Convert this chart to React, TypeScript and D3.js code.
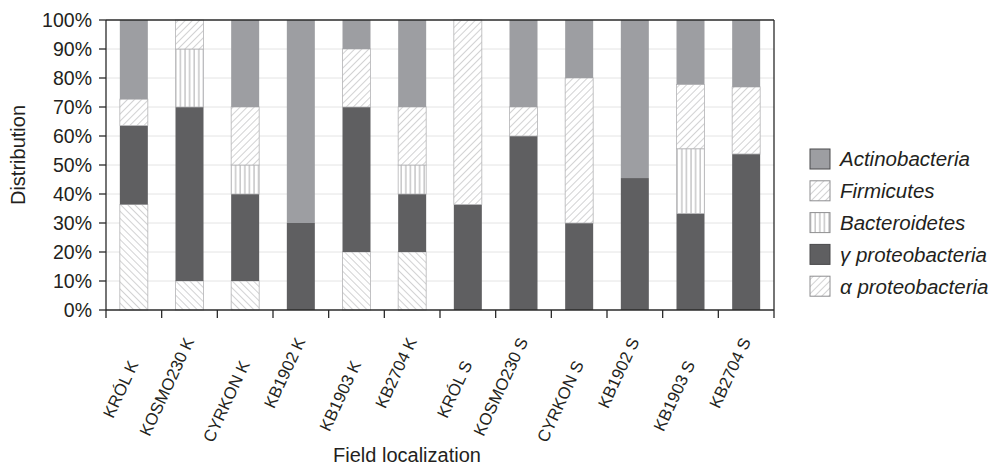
import React from "react";
import * as d3 from "d3";

const categories = [
  "KRÓL K", "KOSMO230 K", "CYRKON K", "KB1902 K", "KB1903 K", "KB2704 K",
  "KRÓL S", "KOSMO230 S", "CYRKON S", "KB1902 S", "KB1903 S", "KB2704 S",
];
// stacked from bottom: alpha, gamma, bacteroidetes, firmicutes, actinobacteria
const alphaProteo = [36.4, 10, 10, 0, 20, 20, 0, 0, 0, 0, 0, 0];
const gammaProteo = [27.2, 60, 30, 30, 50, 20, 36.4, 60, 30, 45.5, 33.3, 53.8];
const bacteroidetes = [0, 20, 10, 0, 0, 10, 0, 0, 0, 0, 22.3, 0];
const firmicutes = [9.1, 10, 20, 0, 20, 20, 63.6, 10, 50, 0, 22.2, 23.1];
const actinobacteria = [27.3, 0, 30, 70, 10, 30, 0, 30, 20, 54.5, 22.2, 23.1];

const seriesNames = ["α proteobacteria", "γ proteobacteria", "Bacteroidetes", "Firmicutes", "Actinobacteria"];
const seriesValues = [alphaProteo, gammaProteo, bacteroidetes, firmicutes, actinobacteria];
const yTicks = [0, 10, 20, 30, 40, 50, 60, 70, 80, 90, 100];
const legendOrder = ["Actinobacteria", "Firmicutes", "Bacteroidetes", "γ proteobacteria", "α proteobacteria"];

const FONT = "'Liberation Sans', Arial, sans-serif";
const TXT = "#231f20";

const fills: Record<string, string> = {
  "α proteobacteria": "url(#hatchBack)",
  "γ proteobacteria": "#5f5f61",
  "Bacteroidetes": "url(#hatchVert)",
  "Firmicutes": "url(#hatchFwd)",
  "Actinobacteria": "#9d9ea2",
};
const legendFills: Record<string, string> = {
  ...fills,
  "α proteobacteria": "url(#hatchFwd)",
};
const hatched = new Set(["α proteobacteria", "Bacteroidetes", "Firmicutes"]);

export default function App() {
  const W = 990, H = 467;
  const m = { left: 106, top: 20, right: 774, bottom: 310 };
  const x = d3.scaleBand<string>().domain(categories).range([m.left, m.right]).paddingInner(0.497).paddingOuter(0.2485);
  const xb = d3.scaleBand<string>().domain(categories).range([m.left, m.right]);
  const y = d3.scaleLinear().domain([0, 100]).range([m.bottom, m.top]);

  const rows = categories.map((c, i) => {
    const r: any = { cat: c };
    seriesNames.forEach((s, k) => (r[s] = seriesValues[k][i]));
    return r;
  });
  const stack = d3.stack<any>().keys(seriesNames)(rows);

  return (
    <svg width={W} height={H} style={{ display: "block", position: "absolute", left: 0, top: 0 }}>
      <defs>
        <pattern id="hatchFwd" patternUnits="userSpaceOnUse" width="5" height="5" patternTransform="rotate(45)">
          <rect width="5" height="5" fill="#fff" />
          <line x1="0" y1="0" x2="0" y2="5" stroke="#8e8e90" strokeWidth="0.8" />
        </pattern>
        <pattern id="hatchBack" patternUnits="userSpaceOnUse" width="5" height="5" patternTransform="rotate(-45)">
          <rect width="5" height="5" fill="#fff" />
          <line x1="0" y1="0" x2="0" y2="5" stroke="#8e8e90" strokeWidth="0.8" />
        </pattern>
        <pattern id="hatchVert" patternUnits="userSpaceOnUse" width="4.6" height="5">
          <rect width="4.6" height="5" fill="#fff" />
          <line x1="1" y1="0" x2="1" y2="5" stroke="#8e8e90" strokeWidth="0.8" />
        </pattern>
      </defs>
      <rect width={W} height={H} fill="#fff" />
      {/* gridlines */}
      {yTicks.filter((t) => t > 0 && t < 100).map((t) => (
        <line key={t} x1={m.left} x2={m.right} y1={y(t)} y2={y(t)} stroke="#e4e4e4" strokeWidth={1} />
      ))}
      {/* bars */}
      {stack.map((layer) => (
        <g key={layer.key}>
          {layer.map((d, i) => {
            const h = y(d[0]) - y(d[1]);
            if (h <= 0.01) return null;
            const isH = hatched.has(layer.key);
            return (
              <rect
                key={i}
                x={x(categories[i])}
                width={x.bandwidth()}
                y={y(d[1])}
                height={h}
                fill={fills[layer.key]}
                stroke={isH ? "#b4b4b6" : "none"}
                strokeWidth={0.8}
              />
            );
          })}
        </g>
      ))}
      {/* frame */}
      <line x1={m.left} x2={m.right} y1={m.top} y2={m.top} stroke="#2a2a2a" strokeWidth={1.3} />
      <line x1={m.right} x2={m.right} y1={m.top} y2={m.bottom} stroke="#2a2a2a" strokeWidth={1.3} />
      <line x1={m.left} x2={m.left} y1={m.top} y2={m.bottom} stroke="#2a2a2a" strokeWidth={1.3} />
      <line x1={m.left} x2={m.right} y1={m.bottom} y2={m.bottom} stroke="#2a2a2a" strokeWidth={1.3} />
      {/* y ticks */}
      {yTicks.map((t) => (
        <g key={t}>
          <line x1={m.left - 7} x2={m.left} y1={y(t)} y2={y(t)} stroke="#2a2a2a" strokeWidth={1.3} />
          <text x={m.left - 14} y={y(t)} dy="0.36em" textAnchor="end" fontFamily={FONT} fontSize={19.5} fill={TXT}>
            {t}%
          </text>
        </g>
      ))}
      {/* x ticks at band boundaries */}
      {categories.map((c) => (
        <line key={c} x1={xb(c)} x2={xb(c)} y1={m.bottom} y2={m.bottom + 8} stroke="#2a2a2a" strokeWidth={1.3} />
      ))}
      <line x1={m.right} x2={m.right} y1={m.bottom} y2={m.bottom + 8} stroke="#2a2a2a" strokeWidth={1.3} />
      {/* x labels */}
      {categories.map((c, i) => {
        const cx = (xb(c) as number) + xb.bandwidth() / 2 + 5;
        const cy = i % 2 === 0 ? 364 : 341;
        return (
          <text key={c} x={cx} y={cy} transform={`rotate(-65 ${cx} ${cy})`} textAnchor="end" fontFamily={FONT} fontSize={16.8} fill={TXT}>
            {c}
          </text>
        );
      })}
      {/* axis titles */}
      <text x={407} y={462} textAnchor="middle" fontFamily={FONT} fontSize={20} fill={TXT}>Field localization</text>
      <text transform={`translate(25,155) rotate(-90)`} textAnchor="middle" fontFamily={FONT} fontSize={20} fill={TXT}>Distribution</text>
      {/* legend */}
      {legendOrder.map((s, i) => {
        const cy = 159 + i * 31.8;
        return (
          <g key={s}>
            <rect x={810} y={cy - 10} width={20} height={20} fill={legendFills[s]} stroke={hatched.has(s) ? "#8e8e90" : "#4a4a4c"} strokeWidth={1} />
            <text x={840} y={cy} dy="0.36em" fontFamily={FONT} fontSize={20.5} fontStyle="italic" fill={TXT}>{s}</text>
          </g>
        );
      })}
    </svg>
  );
}
